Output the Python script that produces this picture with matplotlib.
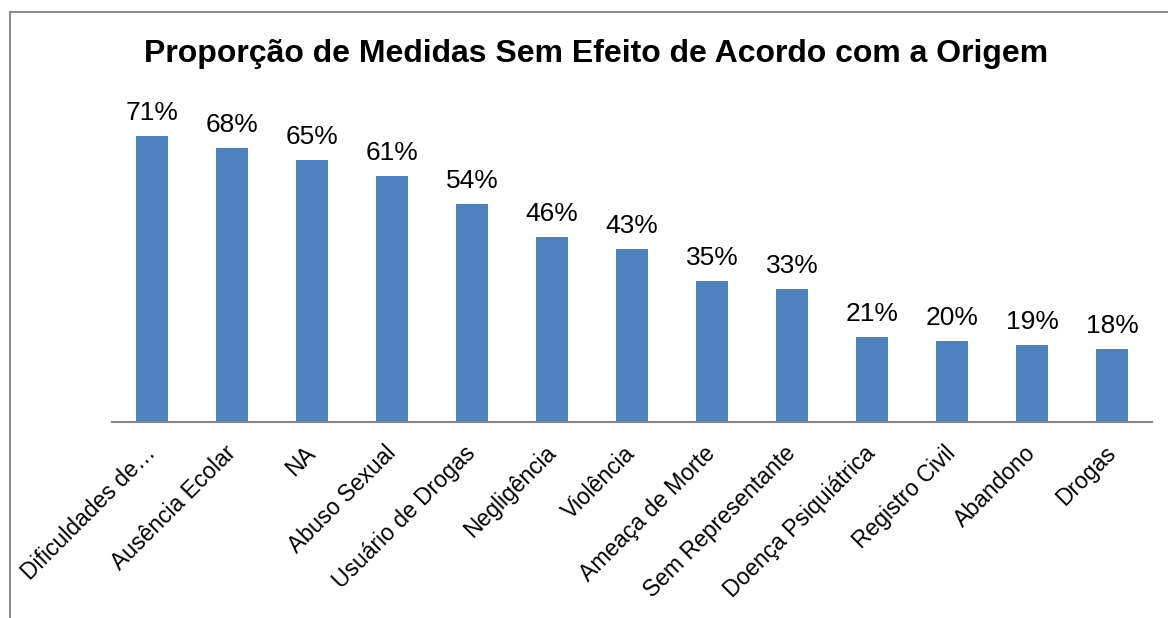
import matplotlib
matplotlib.use("Agg")
import matplotlib.pyplot as plt
import matplotlib.patches as patches

# -------------------------------------------------------
# Data
# -------------------------------------------------------
categorias = ["Dificuldades de\u2026", "Ausência Ecolar", "NA", "Abuso Sexual",
              "Usuário de Drogas", "Negligência", "Violência", "Ameaça de Morte",
              "Sem Representante", "Doença Psiquiátrica", "Registro Civil",
              "Abandono", "Drogas"]
proporcoes = [0.71, 0.68, 0.65, 0.61, 0.54, 0.46, 0.43, 0.35, 0.33, 0.21,
              0.20, 0.19, 0.18]
titulo = "Proporção de Medidas Sem Efeito de Acordo com a Origem"

plt.rcParams['font.family'] = ['Liberation Sans', 'DejaVu Sans']

W, H = 1168, 618
fig = plt.figure(figsize=(W / 100, H / 100), dpi=100)

# axes placed in pixel terms
left, right = 112, 1152
base = 422
ytop = 0.80
px_per_unit = 403
ax_h = ytop * px_per_unit
ax = fig.add_axes([left / W, (H - base) / H, (right - left) / W, ax_h / H])

x = list(range(len(categorias)))
ax.bar(x, proporcoes, width=0.4, color="#4F81BD")
ax.set_xlim(-0.5, len(categorias) - 0.5)
ax.set_ylim(0, ytop)

for xi, v in zip(x, proporcoes):
    ax.annotate("%d%%" % round(v * 100), (xi, v), xytext=(0, 8),
                textcoords="offset points", ha="center", va="bottom",
                fontsize=19, color="black")

ax.set_xticks(x)
ax.set_xticklabels(categorias, rotation=45, ha="right", va="center",
                   rotation_mode="anchor", fontsize=16.5)
ax.tick_params(axis="x", length=0, pad=20)
ax.set_yticks([])
for s in ["top", "right", "left"]:
    ax.spines[s].set_visible(False)
ax.spines["bottom"].set_color("#868686")
ax.spines["bottom"].set_linewidth(1.5)

fig.text(596 / W, 1 - 62 / H, titulo, ha="center", va="baseline",
         fontsize=23, fontweight="bold")

# outer border of the chart
fig.patches.append(patches.Rectangle((10 / W, -0.1), 1.2, 1.1 - 12 / H,
                                     transform=fig.transFigure, fill=False,
                                     edgecolor="#8c8c8c", linewidth=1.5))

fig.savefig("out.png", dpi=100)
